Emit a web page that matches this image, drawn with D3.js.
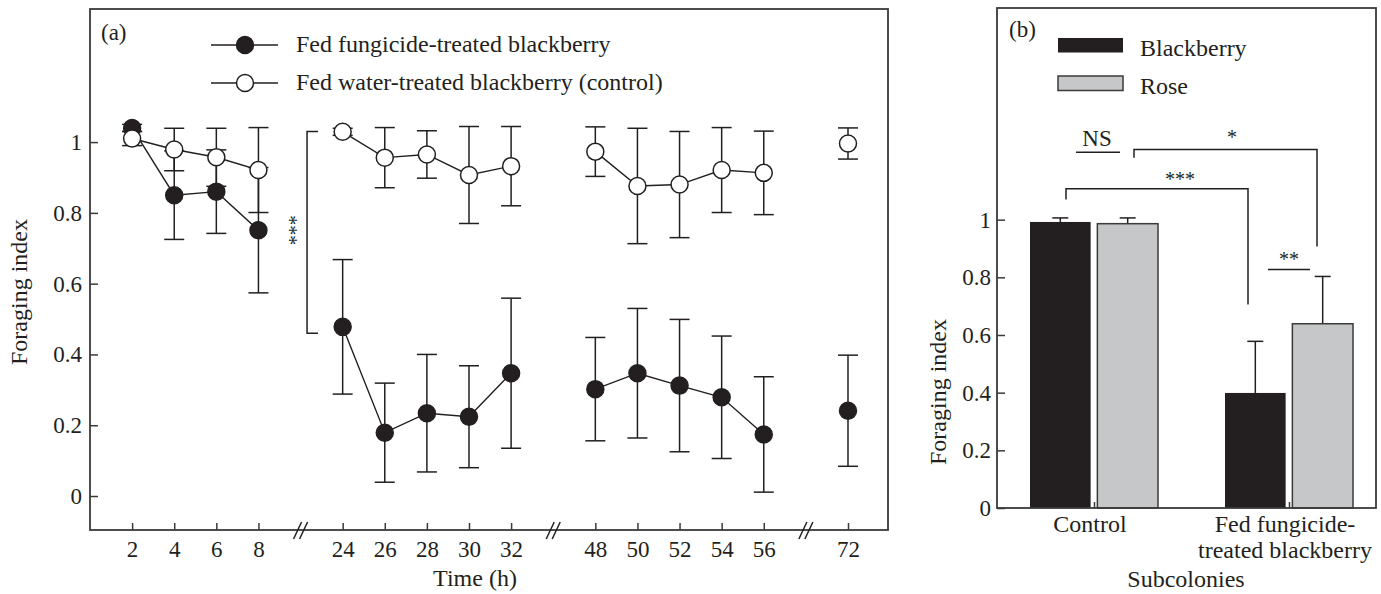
<!DOCTYPE html>
<html>
<head>
<meta charset="utf-8">
<script src="https://cdn.jsdelivr.net/npm/d3@7"></script>
<style>
  body { margin: 0; background: #fff; }
  svg { font-family: "Liberation Serif", "Times New Roman", serif; }
</style>
</head>
<body>
<svg id="chart" width="1381" height="594"></svg>
<script>
// panel (a) data
let times = [2, 4, 6, 8, 24, 26, 28, 30, 32, 48, 50, 52, 54, 56, 72];
let slots = [0, 1, 2, 3, 5, 6, 7, 8, 9, 11, 12, 13, 14, 15, 17];
let segment = [0, 0, 0, 0, 1, 1, 1, 1, 1, 2, 2, 2, 2, 2, 3];
let breakSlots = [4, 10, 16];
let fungMean = [1.04, 0.85, 0.86, 0.751, 0.478, 0.179, 0.234, 0.224, 0.347, 0.302, 0.347, 0.312, 0.279, 0.174, 0.241];
let fungErr = [0.01, 0.125, 0.118, 0.177, 0.19, 0.14, 0.166, 0.144, 0.212, 0.146, 0.183, 0.187, 0.173, 0.163, 0.157];
let ctrlMean = [1.01, 0.979, 0.957, 0.921, 1.029, 0.956, 0.965, 0.907, 0.932, 0.973, 0.876, 0.88, 0.921, 0.913, 0.996];
let ctrlErr = [0.02, 0.06, 0.082, 0.12, 0.01, 0.085, 0.067, 0.137, 0.112, 0.07, 0.163, 0.15, 0.12, 0.118, 0.044];
let yTicks = [0, 0.2, 0.4, 0.6, 0.8, 1];

// panel (b) data
let groups = ["Control", "Fed fungicide-treated blackberry"];
let groupLabels = [["Control"], ["Fed fungicide-", "treated blackberry"]];
let plants = ["Blackberry", "Rose"];
let barMean = {"Control": [0.992, 0.986], "Fed fungicide-treated blackberry": [0.399, 0.639]};
let barErr = {"Control": [0.014, 0.02], "Fed fungicide-treated blackberry": [0.179, 0.164]};

let ink = "#231f20";
let axisInk = "#3a3a3a";
let grey = "#c6c7c8";
let svg = d3.select("#chart");

function fmt(d) { return String(+d.toFixed(1)); }

function styleAxis(a) {
  a.attr("font-family", null).attr("font-size", null);
  a.select(".domain").remove();
  a.selectAll("line").attr("stroke", axisInk).attr("stroke-width", 1.5);
  a.selectAll("text").attr("font-size", 23).attr("fill", ink);
}

function drawPanelA() {
  let box = {x0: 90, x1: 888, y0: 9, y1: 530};
  let x = d3.scaleLinear().domain([-1, 17.95]).range([box.x0, box.x1]);
  let y = d3.scaleLinear().domain([-0.096, 1.376]).range([box.y1, box.y0]);
  let g = svg.append("g");

  g.append("g").attr("transform", `translate(${box.x0},0)`)
    .call(d3.axisLeft(y).tickValues(yTicks).tickFormat(fmt).tickSize(-8).tickPadding(8).tickSizeOuter(0))
    .call(styleAxis);

  g.append("g").attr("transform", `translate(0,${box.y1})`)
    .call(d3.axisBottom(x).tickValues(slots).tickFormat((d, i) => times[i]).tickSize(-7).tickPadding(11).tickSizeOuter(0))
    .call(styleAxis);

  g.append("rect").attr("x", box.x0).attr("y", box.y0)
    .attr("width", box.x1 - box.x0).attr("height", box.y1 - box.y0)
    .attr("fill", "none").attr("stroke", axisInk).attr("stroke-width", 1.8);

  // axis breaks
  for (let b of breakSlots) {
    for (let off of [-3, 3]) {
      g.append("line")
        .attr("x1", x(b) + off - 4).attr("y1", box.y1 + 9)
        .attr("x2", x(b) + off + 4).attr("y2", box.y1 - 8)
        .attr("stroke", ink).attr("stroke-width", 1.5);
    }
  }

  let series = [
    {mean: fungMean, err: fungErr, fill: ink},
    {mean: ctrlMean, err: ctrlErr, fill: "#fff"}
  ];

  // error bars
  for (let s of series) {
    slots.forEach((sl, i) => {
      let cx = x(sl);
      let top = y(s.mean[i] + s.err[i]), bot = y(s.mean[i] - s.err[i]);
      g.append("line").attr("x1", cx).attr("x2", cx).attr("y1", top).attr("y2", bot)
        .attr("stroke", ink).attr("stroke-width", 1.5);
      for (let yy of [top, bot]) {
        g.append("line").attr("x1", cx - 10).attr("x2", cx + 10).attr("y1", yy).attr("y2", yy)
          .attr("stroke", ink).attr("stroke-width", 1.5);
      }
    });
  }

  // connecting lines per segment
  let line = d3.line().x(d => x(d.slot)).y(d => y(d.v));
  for (let s of series) {
    let pts = slots.map((sl, i) => ({slot: sl, v: s.mean[i], seg: segment[i]}));
    let bySeg = d3.groups(pts, d => d.seg);
    for (let [, arr] of bySeg) {
      if (arr.length < 2) continue;
      g.append("path").attr("d", line(arr)).attr("fill", "none")
        .attr("stroke", ink).attr("stroke-width", 1.4);
    }
  }

  for (let s of series) {
    g.selectAll(null).data(slots).enter().append("circle")
      .attr("cx", d => x(d)).attr("cy", (d, i) => y(s.mean[i])).attr("r", 8.5)
      .attr("fill", s.fill).attr("stroke", ink).attr("stroke-width", 1.5);
  }

  // significance bracket
  let bx = x(4) + 6.5;
  let bTop = y(1.03), bBot = y(0.46);
  g.append("path")
    .attr("d", `M${bx + 11},${bTop}H${bx}V${bBot}H${bx + 11}`)
    .attr("fill", "none").attr("stroke", ink).attr("stroke-width", 1.5);
  g.append("text").attr("transform", `translate(${bx - 15},${(bTop + bBot) / 2 - 2}) rotate(-90)`)
    .attr("text-anchor", "middle").attr("dy", "0.55em").attr("font-size", 20).attr("fill", ink)
    .text("***");

  // legend
  let legend = [
    {label: "Fed fungicide-treated blackberry", fill: ink, y: 45},
    {label: "Fed water-treated blackberry (control)", fill: "#fff", y: 83}
  ];
  for (let l of legend) {
    g.append("line").attr("x1", 211).attr("x2", 278).attr("y1", l.y).attr("y2", l.y)
      .attr("stroke", ink).attr("stroke-width", 1.5);
    g.append("circle").attr("cx", 245).attr("cy", l.y).attr("r", 8.5)
      .attr("fill", l.fill).attr("stroke", ink).attr("stroke-width", 1.5);
    g.append("text").attr("x", 296).attr("y", l.y + 7).attr("font-size", 24).attr("fill", ink)
      .text(l.label);
  }

  g.append("text").attr("x", 101).attr("y", 40).attr("font-size", 23).attr("fill", ink).text("(a)");
  g.append("text").attr("transform", `translate(27,${292}) rotate(-90)`)
    .attr("text-anchor", "middle").attr("font-size", 24).attr("fill", ink).text("Foraging index");
  g.append("text").attr("x", 475).attr("y", 586).attr("text-anchor", "middle")
    .attr("font-size", 24).attr("fill", ink).text("Time (h)");
}

function drawPanelB() {
  let box = {x0: 997, x1: 1376, y0: 8, y1: 508};
  let y = d3.scaleLinear().domain([0, 1.734]).range([box.y1, box.y0]);
  let x = d3.scalePoint().domain(groups).range([box.x0 + 97, box.x1 - 87]);
  let inner = d3.scaleBand().domain(plants).range([-64, 64]).paddingInner(0.1);
  let colors = d3.scaleOrdinal().domain(plants).range([ink, grey]);
  let g = svg.append("g");

  // bars
  for (let grp of groups) {
    plants.forEach((p, i) => {
      let v = barMean[grp][i], e = barErr[grp][i];
      let bx = x(grp) + inner(p);
      let cx = bx + inner.bandwidth() / 2;
      g.append("line").attr("x1", cx).attr("x2", cx).attr("y1", y(v)).attr("y2", y(v + e))
        .attr("stroke", ink).attr("stroke-width", 1.5);
      g.append("line").attr("x1", cx - 8).attr("x2", cx + 8).attr("y1", y(v + e)).attr("y2", y(v + e))
        .attr("stroke", ink).attr("stroke-width", 1.5);
      g.append("rect").attr("x", bx).attr("y", y(v))
        .attr("width", inner.bandwidth()).attr("height", y(0) - y(v))
        .attr("fill", colors(p)).attr("stroke", i ? "#3a3a3a" : "none").attr("stroke-width", 1.5);
    });
  }

  g.append("g").attr("transform", `translate(${box.x0},0)`)
    .call(d3.axisLeft(y).tickValues(yTicks).tickFormat(fmt).tickSize(-8).tickPadding(6).tickSizeOuter(0))
    .call(styleAxis);

  g.append("g").attr("transform", `translate(0,${box.y1})`)
    .call(d3.axisBottom(x).tickSize(-6).tickFormat("").tickSizeOuter(0))
    .call(styleAxis);

  groups.forEach((grp, gi) => {
    groupLabels[gi].forEach((t, li) => {
      g.append("text").attr("x", x(grp) - 4).attr("y", box.y1 + 24 + li * 26)
        .attr("text-anchor", "middle").attr("font-size", 24).attr("fill", ink).text(t);
    });
  });

  g.append("rect").attr("x", box.x0).attr("y", box.y0)
    .attr("width", box.x1 - box.x0).attr("height", box.y1 - box.y0)
    .attr("fill", "none").attr("stroke", axisInk).attr("stroke-width", 1.8);

  // significance annotations
  let c0 = x(groups[0]), c1 = x(groups[1]);
  let stroke = sel => sel.attr("fill", "none").attr("stroke", ink).attr("stroke-width", 1.5);
  g.append("path").attr("d", `M${c0 - 18},${y(1.234)}H${c0 + 26}`).call(stroke);
  g.append("text").attr("x", c0 + 3).attr("y", y(1.257)).attr("text-anchor", "middle")
    .attr("font-size", 23).attr("fill", ink).text("NS");
  g.append("path").attr("d", `M${c0 + 40},${y(1.215)}V${y(1.243)}H${c1 + 28}V${y(0.907)}`).call(stroke);
  g.append("text").attr("x", c1 - 57).attr("y", y(1.243) - 6).attr("text-anchor", "middle")
    .attr("font-size", 20).attr("fill", ink).text("*");
  g.append("path").attr("d", `M${c0 - 28},${y(1.07)}V${y(1.107)}H${c1 - 41}V${y(0.706)}`).call(stroke);
  g.append("text").attr("x", c0 + 86).attr("y", y(1.107) - 3).attr("text-anchor", "middle")
    .attr("font-size", 20).attr("fill", ink).text("***");
  g.append("path").attr("d", `M${c1 - 21},${y(0.827)}H${c1 + 21}`).call(stroke);
  g.append("text").attr("x", c1).attr("y", y(0.827) - 4).attr("text-anchor", "middle")
    .attr("font-size", 20).attr("fill", ink).text("**");

  // legend
  plants.forEach((p, i) => {
    let ly = 38 + i * 38;
    g.append("rect").attr("x", 1058).attr("y", ly).attr("width", 65).attr("height", 14.5)
      .attr("fill", colors(p)).attr("stroke", i ? "#3a3a3a" : "none").attr("stroke-width", 1.5);
    g.append("text").attr("x", 1140).attr("y", ly + 18).attr("font-size", 24).attr("fill", ink).text(p);
  });

  g.append("text").attr("x", 1009).attr("y", 37).attr("font-size", 23).attr("fill", ink).text("(b)");
  g.append("text").attr("transform", `translate(946,392) rotate(-90)`)
    .attr("text-anchor", "middle").attr("font-size", 24).attr("fill", ink).text("Foraging index");
  g.append("text").attr("x", 1186).attr("y", 587).attr("text-anchor", "middle")
    .attr("font-size", 24).attr("fill", ink).text("Subcolonies");
}

drawPanelA();
drawPanelB();
</script>
</body>
</html>
